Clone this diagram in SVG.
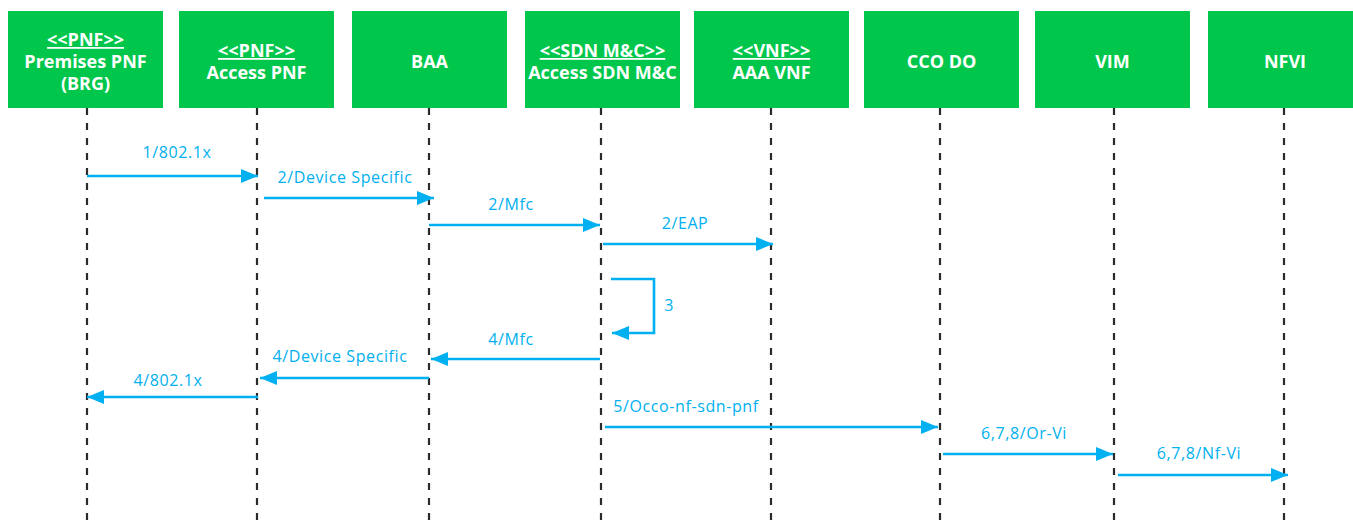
<svg xmlns="http://www.w3.org/2000/svg" width="1353" height="527" viewBox="0 0 1353 527">
<style>
.box{fill:#00C74B}
.ht{font-family:"Open Sans","Liberation Sans",sans-serif;font-weight:bold;font-size:18px;fill:#fff;text-anchor:middle}
.u{text-decoration:underline}
.life{stroke:#2b2b2b;stroke-width:2.2;stroke-dasharray:7 8;fill:none}
.msg{stroke:#00B0F0;stroke-width:2.6;fill:none;marker-end:url(#ah)}
.lbl{font-family:"Open Sans","Liberation Sans",sans-serif;font-size:16px;font-weight:500;letter-spacing:0.6px;fill:#00B0F0;text-anchor:middle}
</style>
<defs>
<marker id="ah" markerUnits="userSpaceOnUse" markerWidth="19" markerHeight="15" refX="17" refY="7" orient="auto">
<path d="M0,0 L17,7 L0,14 z" fill="#00B0F0"/>
</marker>
</defs>
<rect width="1353" height="527" fill="#fff"/>
<g id="lifelines">
<line class="life" x1="87" y1="108" x2="87" y2="527"/>
<line class="life" x1="257" y1="108" x2="257" y2="527"/>
<line class="life" x1="429" y1="108" x2="429" y2="527"/>
<line class="life" x1="601" y1="108" x2="601" y2="527"/>
<line class="life" x1="771" y1="108" x2="771" y2="527"/>
<line class="life" x1="940" y1="108" x2="940" y2="527"/>
<line class="life" x1="1114" y1="108" x2="1114" y2="527"/>
<line class="life" x1="1284" y1="108" x2="1284" y2="527"/>
</g>
<g id="n1"><rect class="box" x="8" y="11" width="155" height="97"/>
<text class="ht" x="85.5" y="46"><tspan class="u">&lt;&lt;PNF&gt;&gt;</tspan><tspan x="85.5" y="68">Premises PNF</tspan><tspan x="85.5" y="89.5">(BRG)</tspan></text></g>
<g id="n2"><rect class="box" x="179" y="11" width="155" height="97"/>
<text class="ht" x="256.5" y="57"><tspan class="u">&lt;&lt;PNF&gt;&gt;</tspan><tspan x="256.5" y="79">Access PNF</tspan></text></g>
<g id="n3"><rect class="box" x="352" y="11" width="155" height="97"/>
<text class="ht" x="429.5" y="68">BAA</text></g>
<g id="n4"><rect class="box" x="525" y="11" width="155" height="97"/>
<text class="ht" x="602.5" y="57"><tspan class="u">&lt;&lt;SDN M&amp;C&gt;&gt;</tspan><tspan x="602.5" y="79">Access SDN M&amp;C</tspan></text></g>
<g id="n5"><rect class="box" x="694" y="11" width="155" height="97"/>
<text class="ht" x="771.5" y="57"><tspan class="u">&lt;&lt;VNF&gt;&gt;</tspan><tspan x="771.5" y="79">AAA VNF</tspan></text></g>
<g id="n6"><rect class="box" x="864" y="11" width="155" height="97"/>
<text class="ht" x="941.5" y="68">CCO DO</text></g>
<g id="n7"><rect class="box" x="1035" y="11" width="155" height="97"/>
<text class="ht" x="1112.5" y="68">VIM</text></g>
<g id="n8"><rect class="box" x="1208" y="11" width="155" height="97"/>
<text class="ht" x="1285" y="68">NFVI</text></g>
<g id="connectors">
<line class="msg" x1="87" y1="176" x2="258" y2="176"/>
<line class="msg" x1="264" y1="198" x2="434" y2="198"/>
<line class="msg" x1="429" y1="225" x2="600" y2="225"/>
<line class="msg" x1="603" y1="244" x2="773" y2="244"/>
<polyline class="msg" points="611,279 654,279 654,333 612,333"/>
<line class="msg" x1="600" y1="359" x2="431" y2="359"/>
<line class="msg" x1="429" y1="378" x2="260" y2="378"/>
<line class="msg" x1="258" y1="397" x2="87" y2="397"/>
<line class="msg" x1="605" y1="427" x2="938" y2="427"/>
<line class="msg" x1="943" y1="454" x2="1113" y2="454"/>
<line class="msg" x1="1118" y1="475" x2="1288" y2="475"/>
<text class="lbl" x="177" y="158">1/802.1x</text>
<text class="lbl" x="345" y="183">2/Device Specific</text>
<text class="lbl" x="511" y="210">2/Mfc</text>
<text class="lbl" x="685" y="229">2/EAP</text>
<text class="lbl" x="669" y="311">3</text>
<text class="lbl" x="511" y="345">4/Mfc</text>
<text class="lbl" x="340" y="362">4/Device Specific</text>
<text class="lbl" x="168" y="386">4/802.1x</text>
<text class="lbl" x="686" y="412">5/Occo-nf-sdn-pnf</text>
<text class="lbl" x="1024" y="439">6,7,8/Or-Vi</text>
<text class="lbl" x="1199" y="459">6,7,8/Nf-Vi</text>
</g>
</svg>
